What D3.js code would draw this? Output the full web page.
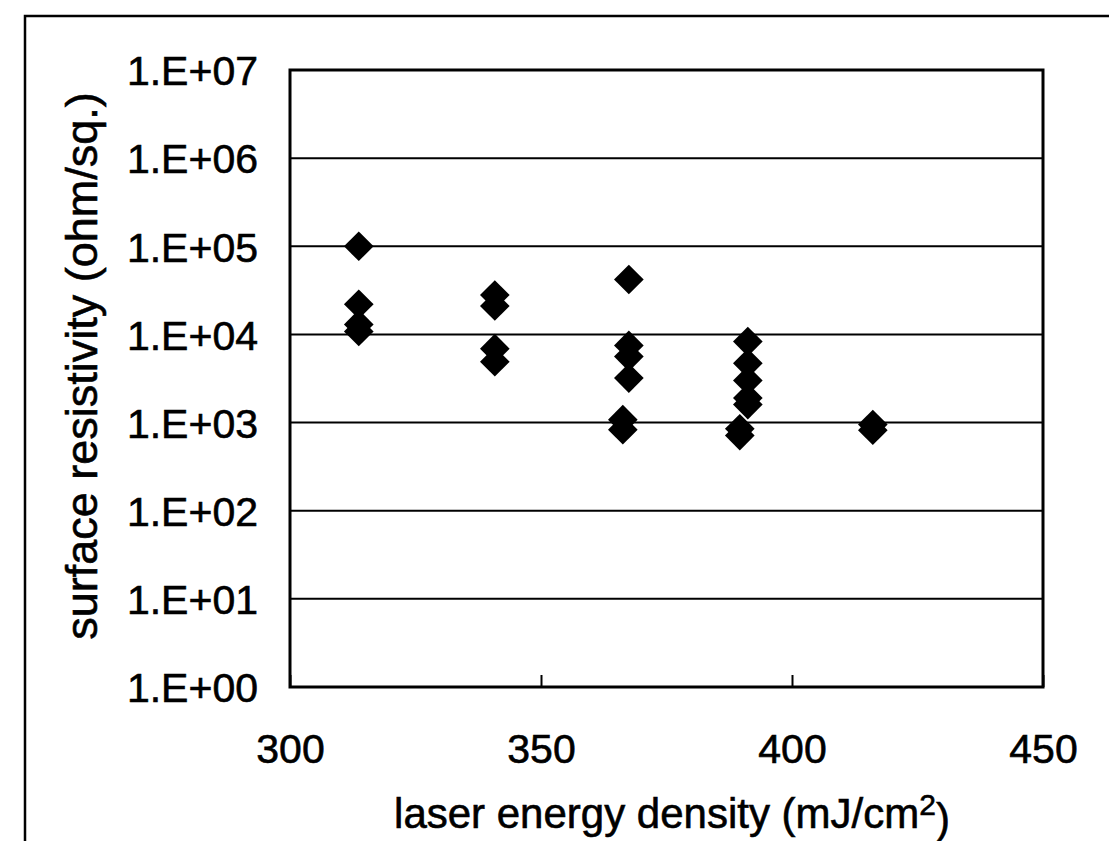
<!DOCTYPE html>
<html>
<head>
<meta charset="utf-8">
<script src="https://cdn.jsdelivr.net/npm/d3@7"></script>
<style>
  body { margin: 0; background: white; }
  svg { display: block; }
</style>
</head>
<body>
<script>
const width = 1109;
const height = 841;
const margin = { top: 70, right: 66, bottom: 154, left: 290 };

// laser energy density (mJ/cm2) and surface resistivity (ohm/sq.)
const energy = [
  313.7, 313.7, 313.7, 313.7,
  340.8, 340.8, 340.8, 340.8,
  367.5, 367.5, 367.5, 367.5, 366.3, 366.3,
  391.2, 391.2, 391.2, 391.2, 391.2, 389.6, 389.6,
  416.1, 416.1
];
const resistivity = [
  1.0e5, 2.2e4, 1.3e4, 1.08e4,
  2.8e4, 2.1e4, 6.9e3, 4.9e3,
  4.2e4, 7.5e3, 5.6e3, 3.2e3, 1.08e3, 830,
  8.3e3, 4.7e3, 3.0e3, 1.9e3, 1.6e3, 850, 712,
  950, 820
];

const xTicks = [300, 350, 400, 450];
const yTicks = [1e0, 1e1, 1e2, 1e3, 1e4, 1e5, 1e6, 1e7];
const yTickLabels = ["1.E+00", "1.E+01", "1.E+02", "1.E+03", "1.E+04", "1.E+05", "1.E+06", "1.E+07"];

const font = "'Liberation Sans', Arial, Helvetica, sans-serif";

const svg = d3.select("body").append("svg")
  .attr("width", width)
  .attr("height", height)
  .attr("viewBox", [0, 0, width, height]);

// outer frame (left and top edges)
svg.append("path")
  .attr("d", `M25,${height} L25,16 L${width},16`)
  .attr("fill", "none")
  .attr("stroke", "black")
  .attr("stroke-width", 2.5);

const x = d3.scaleLinear()
  .domain([300, 450])
  .range([margin.left, width - margin.right]);

const y = d3.scaleLog()
  .domain([1, 1e7])
  .range([height - margin.bottom, margin.top]);

// horizontal gridlines
svg.append("g")
  .selectAll("line")
  .data(yTicks)
  .join("line")
  .attr("x1", margin.left)
  .attr("x2", width - margin.right)
  .attr("y1", d => y(d))
  .attr("y2", d => y(d))
  .attr("stroke", "black")
  .attr("stroke-width", 2);

// plot border
svg.append("rect")
  .attr("x", margin.left)
  .attr("y", margin.top)
  .attr("width", width - margin.right - margin.left)
  .attr("height", height - margin.bottom - margin.top)
  .attr("fill", "none")
  .attr("stroke", "black")
  .attr("stroke-width", 3);

const yAxis = d3.axisLeft(y)
  .tickValues(yTicks)
  .tickFormat((d, i) => yTickLabels[i])
  .tickSize(0)
  .tickPadding(32);

const yAxisG = svg.append("g")
  .attr("transform", `translate(${margin.left}, 0)`)
  .call(yAxis);

yAxisG.select(".domain").remove();
yAxisG.selectAll("text")
  .attr("font-family", font)
  .attr("font-size", "41px")
  .attr("fill", "black")
  .attr("stroke", "black")
  .attr("stroke-width", 0.6)
  .attr("dy", "0.36em");

const xAxis = d3.axisBottom(x)
  .tickValues(xTicks)
  .tickFormat(d3.format("d"))
  .tickSizeInner(-12)
  .tickSizeOuter(0)
  .tickPadding(47);

const xAxisG = svg.append("g")
  .attr("transform", `translate(0, ${height - margin.bottom})`)
  .call(xAxis);

xAxisG.select(".domain").remove();
xAxisG.selectAll("line").attr("stroke", "black").attr("stroke-width", 2);
xAxisG.selectAll("text")
  .attr("font-family", font)
  .attr("font-size", "41px")
  .attr("fill", "black")
  .attr("stroke", "black")
  .attr("stroke-width", 0.6)
  .attr("dy", "0.71em");

// diamonds
const diamond = d3.symbol().type(d3.symbolSquare).size(440);

svg.append("g")
  .selectAll("path")
  .data(energy.map((e, i) => ({ e: e, r: resistivity[i] })))
  .join("path")
  .attr("d", diamond)
  .attr("transform", d => `translate(${x(d.e)}, ${y(d.r)}) rotate(45)`)
  .attr("fill", "black");

// axis titles
const xTitle = svg.append("text")
  .attr("x", 672)
  .attr("y", 828)
  .attr("text-anchor", "middle")
  .attr("font-family", font)
  .attr("font-size", "42px")
  .attr("fill", "black")
  .attr("stroke", "black")
  .attr("stroke-width", 0.6);

xTitle.append("tspan").text("laser energy density (mJ/cm");
xTitle.append("tspan").attr("dy", "-0.45em").attr("font-size", "30px").text("2");
xTitle.append("tspan").attr("dy", "0.45em").text(")");

svg.append("text")
  .attr("transform", `translate(97, 366) rotate(-90)`)
  .attr("text-anchor", "middle")
  .attr("font-family", font)
  .attr("font-size", "45px")
  .attr("fill", "black")
  .attr("stroke", "black")
  .attr("stroke-width", 0.6)
  .text("surface resistivity (ohm/sq.)");
</script>
</body>
</html>
